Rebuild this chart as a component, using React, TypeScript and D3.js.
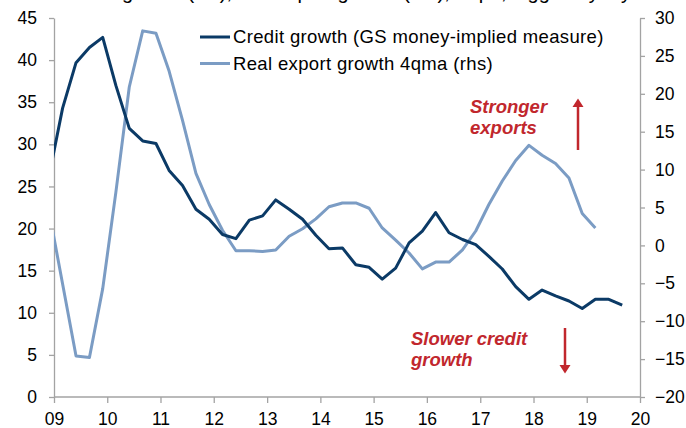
import React, { useEffect, useRef } from "react";
import * as d3 from "d3";

const quarters = [
  "2008-12",
  "2009-03", "2009-06", "2009-09", "2009-12",
  "2010-03", "2010-06", "2010-09", "2010-12",
  "2011-03", "2011-06", "2011-09", "2011-12",
  "2012-03", "2012-06", "2012-09", "2012-12",
  "2013-03", "2013-06", "2013-09", "2013-12",
  "2014-03", "2014-06", "2014-09", "2014-12",
  "2015-03", "2015-06", "2015-09", "2015-12",
  "2016-03", "2016-06", "2016-09", "2016-12",
  "2017-03", "2017-06", "2017-09", "2017-12",
  "2018-03", "2018-06", "2018-09", "2018-12",
  "2019-03", "2019-06", "2019-09",
];

const creditGrowth = [
  26.5,
  34.3, 39.7, 41.5, 42.7,
  37.0, 31.9, 30.4, 30.1,
  26.9, 25.1, 22.3, 21.1,
  19.3, 18.8, 21.0, 21.5,
  23.4, 22.3, 21.1, 19.2,
  17.6, 17.7, 15.7, 15.4,
  14.0, 15.3, 18.3, 19.7,
  21.9, 19.5, 18.7, 18.1,
  16.7, 15.2, 13.1, 11.6,
  12.7, 12.0, 11.4, 10.5,
  11.6, 11.6, 10.9,
];

const exportGrowth = [
  4.2,
  -5.1, -14.6, -14.8, -5.7,
  7.0, 20.9, 28.3, 28.0,
  23.0, 16.5, 9.5, 5.4,
  2.0, -0.7, -0.7, -0.8,
  -0.6, 1.2, 2.2, 3.5,
  5.1, 5.6, 5.6, 4.9,
  2.3, 0.7, -1.0, -3.1,
  -2.2, -2.2, -0.6, 1.9,
  5.4, 8.5, 11.2, 13.2,
  11.9, 10.8, 8.9, 4.2,
  2.3,
];

const leftTicks = [0, 5, 10, 15, 20, 25, 30, 35, 40, 45];
const rightTicks = [-20, -15, -10, -5, 0, 5, 10, 15, 20, 25, 30];
const yearTicks = ["2009", "2010", "2011", "2012", "2013", "2014", "2015", "2016", "2017", "2018", "2019", "2020"];

const seriesNames = ["Credit growth (GS money-implied measure)", "Real export growth 4qma (rhs)"];
const titleText = "Credit growth (lhs), real export growth (rhs), % pa, lagged by 1 year";

const W = 686;
const H = 428;
const M = { left: 54, right: 640, top: 18, bottom: 397 };
const DARK = "#0b3a66";
const LIGHT = "#7b9cc4";
const RED = "#c1272d";
const AXIS = "#a3a3a3";
const FONT = "'Liberation Sans', Arial, Helvetica, sans-serif";

export default function App() {
  const ref = useRef<SVGSVGElement | null>(null);

  useEffect(() => {
    const svg = d3.select(ref.current);
    svg.selectAll("*").remove();
    const parse = d3.timeParse("%Y-%m");
    const dates = quarters.map((q) => parse(q) as Date);
    const years = yearTicks.map((y) => d3.timeParse("%Y")(y) as Date);

    const x = d3.scaleTime().domain([years[0], years[years.length - 1]]).range([M.left, M.right]);
    const yL = d3.scaleLinear().domain([0, 45]).range([M.bottom, M.top]);
    const yR = d3.scaleLinear().domain([-20, 30]).range([M.bottom, M.top]);

    // title (cut off at the top edge, as in the reference)
    svg.append("text")
      .attr("x", 63).attr("y", -1)
      .attr("font-family", FONT).attr("font-size", 20).attr("fill", "#000")
      .text(titleText);

    const styleAxis = (g: any) => {
      g.select(".domain").attr("stroke", AXIS).attr("stroke-width", 1.3).attr("fill", "none");
      g.selectAll(".tick line").attr("stroke", AXIS).attr("stroke-width", 1.3);
      g.selectAll(".tick text").attr("font-family", FONT).attr("font-size", 17.5).attr("fill", "#000");
    };

    svg.append("g")
      .attr("transform", `translate(${M.left},0)`)
      .call(d3.axisLeft(yL).tickValues(leftTicks).tickSize(5).tickSizeOuter(0).tickPadding(12).tickFormat(d3.format("d")))
      .call(styleAxis);

    svg.append("g")
      .attr("transform", `translate(${M.right},0)`)
      .call(d3.axisRight(yR).tickValues(rightTicks).tickSize(5).tickSizeOuter(0).tickPadding(10).tickFormat(d3.format("d")))
      .call(styleAxis);

    const xg = svg.append("g")
      .attr("transform", `translate(0,${M.bottom})`)
      .call(d3.axisBottom(x).tickValues(years).tickSize(6).tickSizeOuter(0).tickPadding(10).tickFormat(d3.timeFormat("%y") as any))
      .call(styleAxis);
    xg.select(".domain").attr("d", `M${M.left},0H${M.right}`);

    svg.append("defs").append("clipPath").attr("id", "plotclip")
      .append("rect").attr("x", M.left).attr("y", 0).attr("width", M.right - M.left).attr("height", H);

    const plot = svg.append("g").attr("clip-path", "url(#plotclip)");

    const lineExp = d3.line<number>()
      .x((_, i) => x(dates[i]))
      .y((d) => yR(d));
    const lineCred = d3.line<number>()
      .x((_, i) => x(dates[i]))
      .y((d) => yL(d));

    plot.append("path").datum(exportGrowth).attr("d", lineExp as any)
      .attr("fill", "none").attr("stroke", LIGHT).attr("stroke-width", 3).attr("stroke-linejoin", "round");
    plot.append("path").datum(creditGrowth).attr("d", lineCred as any)
      .attr("fill", "none").attr("stroke", DARK).attr("stroke-width", 3).attr("stroke-linejoin", "round");

    // legend
    const lg = svg.append("g");
    [DARK, LIGHT].forEach((c, i) => {
      const cy = 37 + i * 26.5;
      lg.append("line").attr("x1", 200).attr("x2", 230).attr("y1", cy).attr("y2", cy)
        .attr("stroke", c).attr("stroke-width", 3);
      lg.append("text").attr("x", 233).attr("y", cy + 6.2)
        .attr("font-family", FONT).attr("font-size", 18.5).attr("letter-spacing", 0.35)
        .attr("fill", "#000").text(seriesNames[i]);
    });

    // annotations
    const ann = svg.append("g").attr("fill", RED).attr("font-family", FONT)
      .attr("font-size", 18.5).attr("font-weight", "bold").attr("font-style", "italic");
    ann.append("text").attr("x", 470).attr("y", 112.5).text("Stronger");
    ann.append("text").attr("x", 470).attr("y", 134).text("exports");
    ann.append("text").attr("x", 411).attr("y", 344.5).text("Slower credit");
    ann.append("text").attr("x", 411).attr("y", 366).text("growth");

    const arrows = svg.append("g");
    arrows.append("line").attr("x1", 578).attr("x2", 578).attr("y1", 150).attr("y2", 106)
      .attr("stroke", RED).attr("stroke-width", 2.5);
    arrows.append("path").attr("d", "M572.5,107 L578,98.5 L583.5,107 Z").attr("fill", RED);
    arrows.append("line").attr("x1", 565).attr("x2", 565).attr("y1", 328).attr("y2", 366)
      .attr("stroke", RED).attr("stroke-width", 2.5);
    arrows.append("path").attr("d", "M559.5,365 L565,373.5 L570.5,365 Z").attr("fill", RED);
  }, []);

  return (
    <svg
      ref={ref}
      width={W}
      height={H}
      viewBox={`0 0 ${W} ${H}`}
      style={{ position: "absolute", left: 0, top: 0, display: "block", background: "#fff" }}
    />
  );
}
